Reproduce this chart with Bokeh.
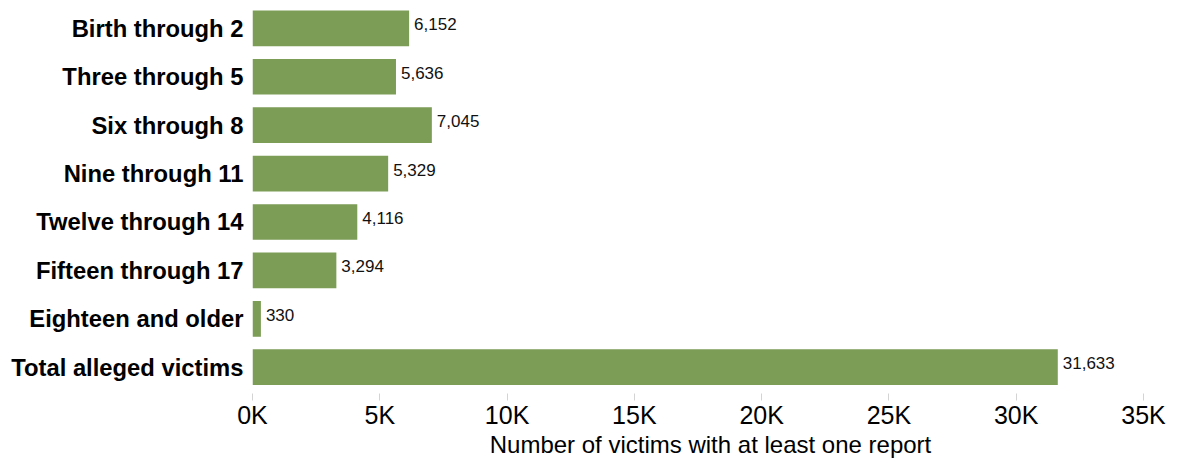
from bokeh.plotting import figure
from bokeh.models import ColumnDataSource, Range1d, FixedTicker
from bokeh.core.properties import value
from bokeh.embed import file_html
from bokeh.resources import INLINE

categories = ["Birth through 2", "Three through 5", "Six through 8", "Nine through 11",
              "Twelve through 14", "Fifteen through 17", "Eighteen and older",
              "Total alleged victims"]
victims = [6152, 5636, 7045, 5329, 4116, 3294, 330, 31633]
x_ticks = [0, 5000, 10000, 15000, 20000, 25000, 30000, 35000]
x_tick_labels = ["0K", "5K", "10K", "15K", "20K", "25K", "30K", "35K"]
x_title = "Number of victims with at least one report"

BAR = "#7b9d56"
FONT = "Liberation Sans"

pos = list(range(len(categories)))
src = ColumnDataSource(dict(
    y=pos, v=victims, cat=categories,
    lab=[f"{v:,}" for v in victims],
))

Y_TOP, Y_BOT = -0.4316, 7.5436
p = figure(width=1168, height=460, output_backend="svg", toolbar_location=None,
           x_range=Range1d(0, 35982), y_range=Range1d(Y_BOT, Y_TOP),
           min_border_left=252, min_border_right=0, min_border_top=7,
           min_border_bottom=0)
p.outline_line_color = None
p.grid.visible = False

p.hbar(y="y", left=0, right="v", height=0.737, source=src,
       fill_color=BAR, line_color=None)

p.text(x="v", y="y", text="lab", source=src, x_offset=5, y_offset=-4,
       text_font=value(FONT), text_font_size="17px", text_color="#111111",
       text_baseline="middle", text_align="left")

# y axis with category names
yax = p.yaxis[0]
yax.ticker = FixedTicker(ticks=pos)
yax.major_label_overrides = {i: c for i, c in zip(pos, categories)}
yax.axis_line_color = None
yax.major_tick_line_color = None
yax.major_tick_in = 0
yax.major_tick_out = 0
yax.minor_tick_line_color = None
yax.major_label_standoff = 9
yax.major_label_text_font = FONT
yax.major_label_text_font_style = "bold"
yax.major_label_text_font_size = "23.8px"
yax.major_label_text_color = "#000000"

# x axis
xax = p.xaxis[0]
xax.ticker = FixedTicker(ticks=x_ticks)
xax.major_label_overrides = {t: l for t, l in zip(x_ticks, x_tick_labels)}
xax.axis_line_color = None
xax.major_tick_line_color = "#d4d4d4"
xax.major_tick_in = 0
xax.major_tick_out = 7
xax.minor_tick_line_color = None
xax.major_label_standoff = 0
xax.major_label_text_font = FONT
xax.major_label_text_font_size = "25px"
xax.major_label_text_color = "#000000"
xax.axis_label = x_title
xax.axis_label_text_font = FONT
xax.axis_label_text_font_style = "normal"
xax.axis_label_text_font_size = "24px"
xax.axis_label_text_color = "#000000"
xax.axis_label_standoff = -1

open("out.html", "w").write(file_html(p, INLINE))
